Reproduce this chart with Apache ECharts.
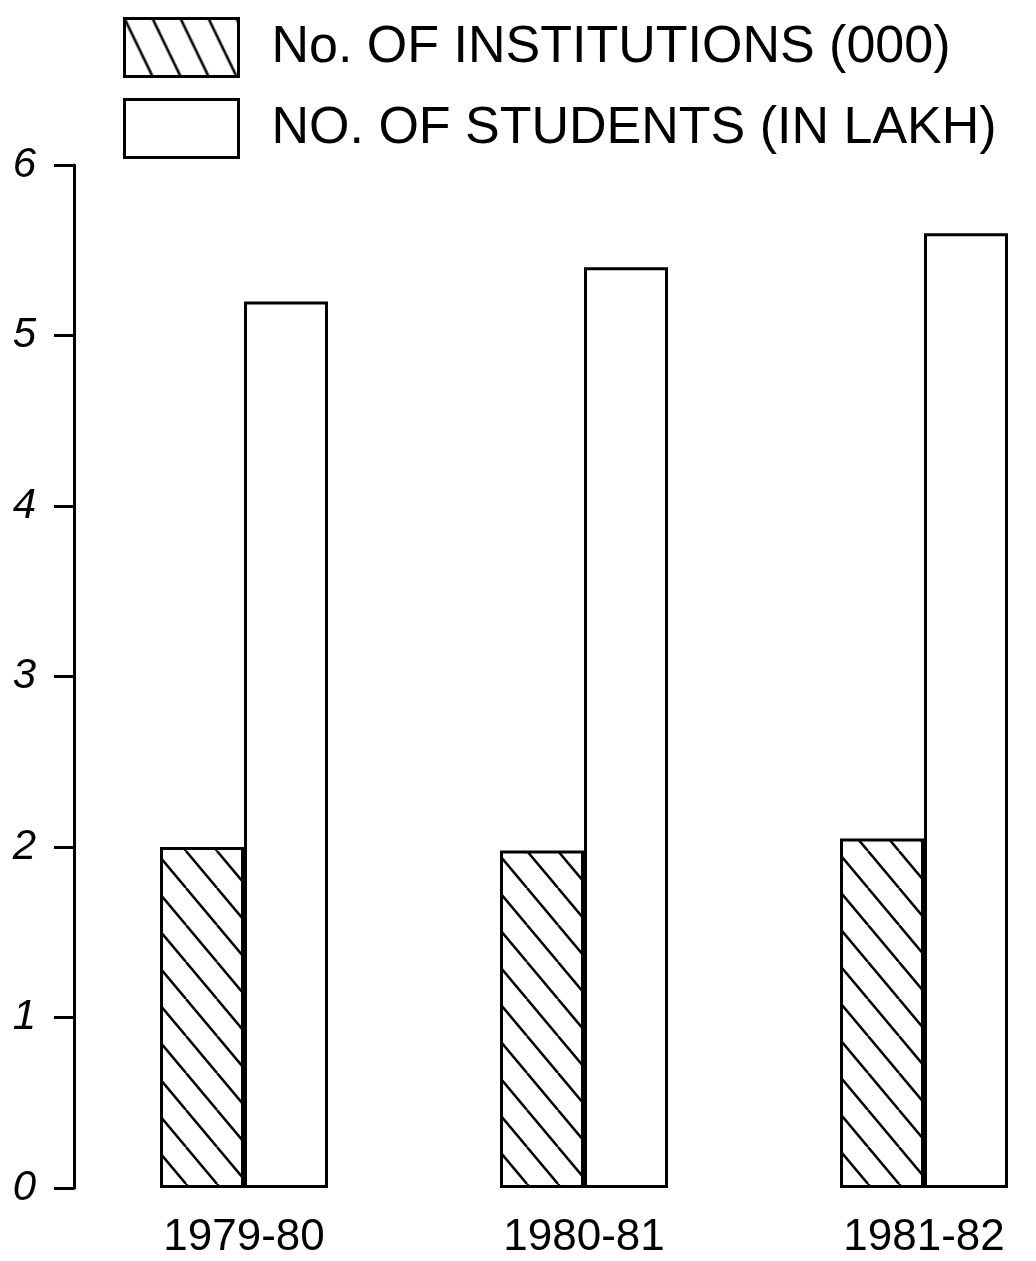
<!DOCTYPE html>
<html>
<head>
<meta charset="utf-8">
<script src="https://cdn.jsdelivr.net/npm/echarts@6/dist/echarts.min.js"></script>
<style>
  body { margin: 0; background: #fff; }
  #chart { width: 1036px; height: 1261px; }
</style>
</head>
<body>
<div id="chart"></div>
<script>
// data
var years = ['1979-80', '1980-81', '1981-82'];
var institutions = [2.0, 1.98, 2.05];   // No. of institutions (000)
var students = [5.2, 5.4, 5.6];         // No. of students (in lakh)
var yTicks = [0, 1, 2, 3, 4, 5, 6];

// diagonal hatching tile, top-left to bottom-right
function hatch(w, h, lw) {
  var c = document.createElement('canvas');
  c.width = w;
  c.height = h;
  var ctx = c.getContext('2d');
  ctx.fillStyle = '#fff';
  ctx.fillRect(0, 0, w, h);
  ctx.strokeStyle = '#000';
  ctx.lineWidth = lw;
  ctx.beginPath();
  [-w, 0, w].forEach(function (k) {
    ctx.moveTo(k, 0);
    ctx.lineTo(k + w, h);
  });
  ctx.stroke();
  return c;
}

var barHatch = { image: hatch(31, 37, 2.5), repeat: 'repeat' };
var legendHatch = { image: hatch(28, 58, 2.5), repeat: 'repeat' };

var myChart = echarts.init(document.getElementById('chart'), null, { renderer: 'canvas' });

var option = {
  backgroundColor: '#fff',
  animation: false,
  textStyle: { fontFamily: 'Liberation Sans', color: '#000' },
  legend: {
    orient: 'vertical',
    left: 118,
    top: 12,
    itemWidth: 114,
    itemHeight: 58,
    itemGap: 20,
    icon: 'rect',
    textStyle: {
      fontSize: 52,
      color: '#000',
      padding: [0, 0, 0, 28],
      fontFamily: 'Liberation Sans'
    },
    data: [
      { name: 'No. OF INSTITUTIONS (000)', itemStyle: { color: legendHatch, borderColor: '#000', borderWidth: 3 } },
      { name: 'NO. OF STUDENTS (IN LAKH)', itemStyle: { color: '#fff', borderColor: '#000', borderWidth: 3 } }
    ]
  },
  grid: {
    left: 74,
    top: 165,
    width: 1020,
    height: 1023,
    outerBoundsMode: 'none'
  },
  xAxis: {
    type: 'category',
    data: years,
    axisLine: { show: false },
    axisTick: { show: false },
    axisLabel: {
      margin: 28,
      fontSize: 44,
      color: '#000',
      fontFamily: 'Liberation Sans'
    }
  },
  yAxis: {
    type: 'value',
    min: 0,
    max: 6,
    interval: 1,
    splitLine: { show: false },
    axisLine: { show: true, lineStyle: { color: '#000', width: 3 } },
    axisTick: { show: true, length: 20, lineStyle: { color: '#000', width: 3 } },
    axisLabel: {
      margin: 38,
      fontSize: 42,
      fontStyle: 'italic',
      color: '#000',
      fontFamily: 'Liberation Sans',
      formatter: function (v) { return yTicks.indexOf(v) >= 0 ? String(v) : ''; }
    }
  },
  series: [
    {
      name: 'No. OF INSTITUTIONS (000)',
      type: 'bar',
      data: institutions,
      barWidth: 84,
      barGap: '0%',
      itemStyle: { color: barHatch, borderColor: '#000', borderWidth: 3 }
    },
    {
      name: 'NO. OF STUDENTS (IN LAKH)',
      type: 'bar',
      data: students,
      barWidth: 84,
      barGap: '0%',
      itemStyle: { color: '#fff', borderColor: '#000', borderWidth: 3 }
    }
  ]
};

myChart.setOption(option);
window.addEventListener('resize', myChart.resize);
</script>
</body>
</html>
